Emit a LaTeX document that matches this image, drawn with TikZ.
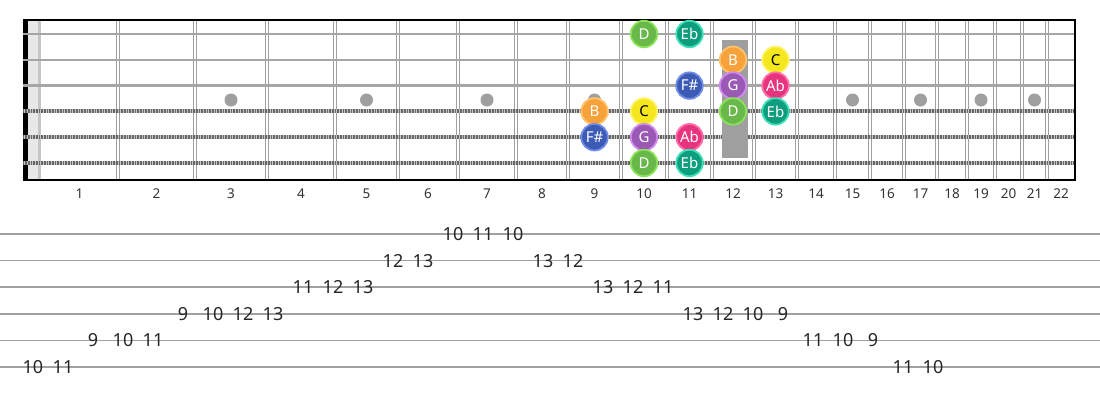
\documentclass[tikz,border=0pt]{standalone}
\usepackage{fontspec}
\setmainfont{Noto Sans}
\definecolor{cDf}{HTML}{68B94A}\definecolor{cDb}{HTML}{8BE35A}
\definecolor{cEf}{HTML}{0E9E7E}\definecolor{cEb}{HTML}{3EE0B8}
\definecolor{cBf}{HTML}{F7A13A}\definecolor{cBb}{HTML}{FFC46A}
\definecolor{cCf}{HTML}{F4E71E}\definecolor{cCb}{HTML}{FFF36A}
\definecolor{cFf}{HTML}{3B5BB5}\definecolor{cFb}{HTML}{6E8CE8}
\definecolor{cGf}{HTML}{9B59B6}\definecolor{cGb}{HTML}{D08AF0}
\definecolor{cAf}{HTML}{E8337F}\definecolor{cAb}{HTML}{FF6EA8}
\definecolor{lineg}{HTML}{A0A0A0}
\begin{document}
\begin{tikzpicture}[x=1pt,y=-1pt,
  note/.style={circle, minimum size=26.5pt, inner sep=0pt, line width=1.8pt,
    font=\fontsize{15}{15}\selectfont, text=white},
  nD/.style={note, fill=cDf, draw=cDb},
  nEb/.style={note, fill=cEf, draw=cEb},
  nB/.style={note, fill=cBf, draw=cBb},
  nC/.style={note, fill=cCf, draw=cCb, text=black},
  nFs/.style={note, fill=cFf, draw=cFb},
  nG/.style={note, fill=cGf, draw=cGb},
  nAb/.style={note, fill=cAf, draw=cAb},
  tabnum/.style={font=\fontsize{18}{18}\selectfont, text=black!85, inner sep=0pt},
  fretnum/.style={font=\fontsize{13.5}{13.5}\selectfont, text=black!80, inner sep=0pt},
  fretline/.style={lineg, line width=1.2pt},
  plainstr/.style={gray!70, line width=2.5pt},
  woundbase/.style={gray!45, line width=4pt},
  woundtick/.style={black!60, line width=4pt, dash pattern=on 0.7pt off 0.9pt},
  tabline/.style={lineg, line width=1.5pt},
  inlay/.style={fill=gray!75}
]
\useasboundingbox (0,0) rectangle (1100,400);
% nut area
\fill[black] (23,20) rectangle (28,180);
\fill[gray!18] (28,20) rectangle (38,180);
\fill[gray!45] (38,20) rectangle (41,180);
% frets
\foreach \fx in {118,195,267,335,398,458,516,568,621,667,712,754,797,835,870,904,937,967,995,1022,1047}{
  \draw[fretline] (\fx-1.6,20) -- (\fx-1.6,180);
  \draw[fretline] (\fx+1.6,20) -- (\fx+1.6,180);
}
% inlays
\foreach \mx in {231,366.5,487,594.5,852.5,920.5,981,1034.5}{
  \fill[inlay] (\mx,100) circle (6.5);
}
% strings
\foreach \sy in {34,59.8,85.6}{
  \draw[plainstr] (23,\sy) -- (1075,\sy);
}
\foreach \sy in {111.4,137.2,163}{
  \draw[woundbase] (23,\sy) -- (1075,\sy);
  \draw[woundtick] (23,\sy) -- (1075,\sy);
}
% 12th fret bar
\fill[gray!75] (722,40) rectangle (748,158);
% borders
\draw[black, line width=2pt] (23,20) -- (1075,20);
\draw[black, line width=2pt] (23,180) -- (1075,180);
\draw[black, line width=2pt] (1075,19) -- (1075,181);
% fret numbers
\foreach \n/\lx in {1/79.5,2/156.5,3/231,4/301,5/366.5,6/428,7/487,8/542,9/594.5,10/644,11/689.5,12/733,13/775.5,14/816,15/852.5,16/887,17/920.5,18/952,19/981,20/1008.5,21/1034.5,22/1061}{
  \node[fretnum] (fl\n) at (\lx,194) {\n};
}
% notes on fretboard
\node[nD]  (n1a) at (644,34) {D};
\node[nEb] (n1b) at (689.5,34) {Eb};
\node[nB]  (n2a) at (733,59.8) {B};
\node[nC]  (n2b) at (775.5,59.8) {C};
\node[nFs] (n3a) at (689.5,85.6) {F\#};
\node[nG]  (n3b) at (733,85.6) {G};
\node[nAb] (n3c) at (775.5,85.6) {Ab};
\node[nB]  (n4a) at (594.5,111.4) {B};
\node[nC]  (n4b) at (644,111.4) {C};
\node[nD]  (n4c) at (733,111.4) {D};
\node[nEb] (n4d) at (775.5,111.4) {Eb};
\node[nFs] (n5a) at (594.5,137.2) {F\#};
\node[nG]  (n5b) at (644,137.2) {G};
\node[nAb] (n5c) at (689.5,137.2) {Ab};
\node[nD]  (n6a) at (644,163) {D};
\node[nEb] (n6b) at (689.5,163) {Eb};
% tab lines
\foreach \k in {1,...,6}{
  \draw[tabline] (0,{234+(\k-1)*26.6}) -- (1100,{234+(\k-1)*26.6});
}
% tab numbers
\foreach \i/\k/\v in {0/6/10,1/6/11,2/5/9,3/5/10,4/5/11,5/4/9,6/4/10,7/4/12,8/4/13,9/3/11,10/3/12,11/3/13,12/2/12,13/2/13,14/1/10,15/1/11,16/1/10,17/2/13,18/2/12,19/3/13,20/3/12,21/3/11,22/4/13,23/4/12,24/4/10,25/4/9,26/5/11,27/5/10,28/5/9,29/6/11,30/6/10}{
  \node[tabnum] (t\i) at ({33+30*\i},{234+(\k-1)*26.6}) {\v};
}
\end{tikzpicture}
\end{document}
